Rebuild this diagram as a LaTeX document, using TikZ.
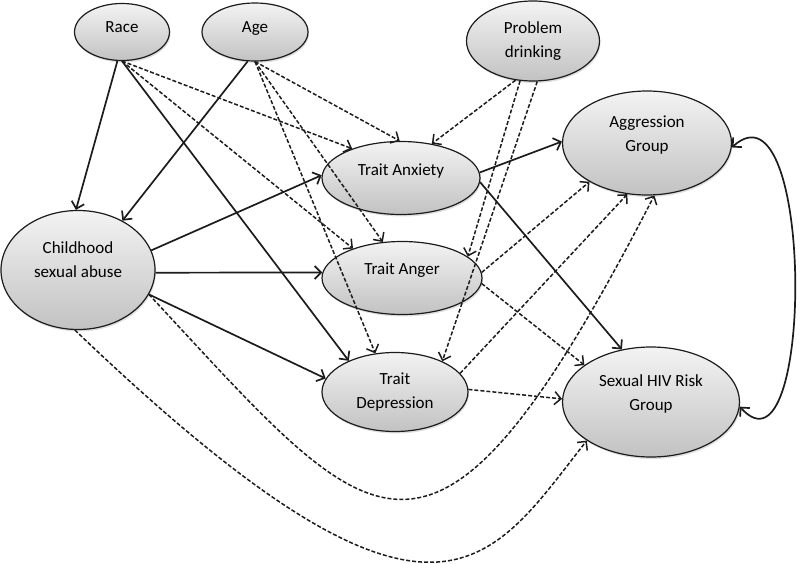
\documentclass[tikz,border=0pt]{standalone}
\usepackage{fontspec}
\setmainfont{Carlito}
\usetikzlibrary{arrows.meta, shapes.geometric, shadows}
\definecolor{my_black}{HTML}{1C1C1C}
\definecolor{my_top}{HTML}{F3F3F3}
\definecolor{my_bottom}{HTML}{C2C2C2}
% Text im Ellipsenknoten etwas anheben, ohne die Knotengroesse zu aendern
\newcommand{\lifted}[2][8pt]{\raisebox{#1}[\height][\depth]{\begin{tabular}{@{}c@{}}#2\end{tabular}}}

\begin{document}
\begin{tikzpicture}[
    x=1pt, y=-1pt,
    font=\fontsize{17}{24}\selectfont,
    latent/.style={ellipse, draw=my_black, line width=1.2pt, inner sep=0pt,
        top color=my_top, bottom color=my_bottom,
        drop shadow={opacity=0.25, shadow xshift=1pt, shadow yshift=-2pt}},
    direct/.style={my_black, line width=1.7pt, -{Straight Barb[length=6.5pt, width=13pt]}},
    indirect/.style={my_black, line width=1.5pt, dash pattern=on 4pt off 2pt,
        -{Straight Barb[length=6.5pt, width=13pt]}}
]
\useasboundingbox (0,0) rectangle (800,564);

% ----------------------------------------------------------
% Knoten (Koordinaten in Pixeln, y nach unten)
% ----------------------------------------------------------
\node[latent, minimum width=95pt,  minimum height=57pt]  (race)  at (122,32)  {\lifted[4pt]{Race}};
\node[latent, minimum width=106pt, minimum height=58pt]  (age)   at (255,32)  {\lifted[4pt]{Age}};
\node[latent, minimum width=133pt, minimum height=80pt]  (drink) at (533,41)  {\lifted[0pt]{Problem\\drinking}};
\node[latent, minimum width=154pt, minimum height=119pt] (csa)   at (78,270)  {\lifted[9pt]{Childhood\\sexual abuse}};
\node[latent, minimum width=158pt, minimum height=73pt]  (anx)   at (401,178) {\lifted[7pt]{Trait Anxiety}};
\node[latent, minimum width=160pt, minimum height=73pt]  (ang)   at (402,278) {\lifted{Trait Anger}};
\node[latent, minimum width=146pt, minimum height=79pt]  (dep)   at (395,392) {\lifted[0pt]{Trait\\Depression}};
\node[latent, minimum width=169pt, minimum height=104pt] (aggr)  at (647,143) {\lifted{Aggression\\Group}};
\node[latent, minimum width=177pt, minimum height=110pt] (hiv)   at (651,402) {\lifted{Sexual HIV Risk\\Group}};

% ----------------------------------------------------------
% Direkte Pfade (durchgezogen)
% ----------------------------------------------------------
\draw[direct] (race.-99)   -- (csa.92);
\draw[direct] (age.-104)   -- (csa.48);
\draw[direct] (race.south) -- (dep.146);
\draw[direct] (csa.15)     -- (anx.178);
\draw[direct] (csa.-2)     -- (ang.176);
\draw[direct] (csa.-19)    -- (dep.169);
\draw[direct] (anx.4)      -- (aggr.179);
\draw[direct] (anx.-3)     -- (hiv.119);

% ----------------------------------------------------------
% Weitere Pfade (gestrichelt)
% ----------------------------------------------------------
\draw[indirect] (race.south) -- (anx.149);
\draw[indirect] (race.south) -- (ang.149);
\draw[indirect] (age.south)  -- (anx.92);
\draw[indirect] (age.south)  -- (ang.118);
\draw[indirect] (age.south)  -- (dep.117);
\draw[indirect] (drink.-114) -- (anx.48);
\draw[indirect] (drink.-108) -- (ang.18);
\draw[indirect] (drink.-84)  -- (dep.33);
\draw[indirect] (ang.4)      -- (aggr.-146);
\draw[indirect] (ang.-4)     -- (hiv.151);
\draw[indirect] (dep.16)     -- (aggr.-111);
\draw[indirect] (dep.2)      -- (hiv.178);

% Boegen unter dem Modell
\draw[indirect] (csa.-19) .. controls (376,538) and (430,630) .. (aggr.-82);
\draw[indirect] (csa.-93) .. controls (436,676) and (488,566) .. (hiv.-149);

% Korrelation der beiden Gruppen (rechts)
\draw[direct, {Straight Barb[length=6.5pt, width=13pt]}-{Straight Barb[length=6.5pt, width=13pt]}]
    (aggr.-3) to[out=42, in=-48, looseness=1.1] (hiv.-3);

\end{tikzpicture}
\end{document}
